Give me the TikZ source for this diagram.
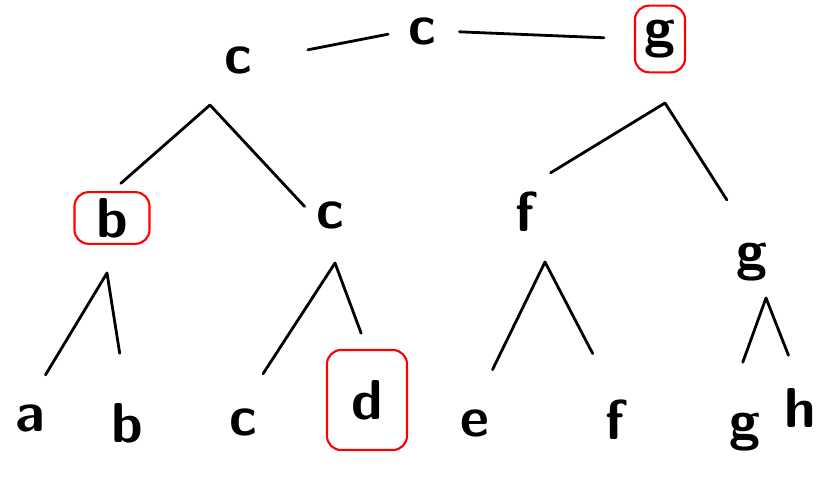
\documentclass[tikz,border=0pt]{standalone}
\begin{document}
\begin{tikzpicture}[x=0.03cm, y=-0.03cm, line width=2.4pt, line cap=round, line join=round,
	letter/.style={font=\fontsize{48}{54}\selectfont\sffamily\bfseries, inner sep=2pt},
	picked/.style={letter, draw=red, line width=1.8pt, rounded corners=12pt}]
	\useasboundingbox (0,0) rectangle (831,491);
	
	% oberste Reihe
	\node [letter] (c1) at (238,60) {c};
	\node [letter] (c0) at (422,31) {c};
	\node [picked, minimum width=1.5cm, minimum height=2cm] (g1) at (660,39) {g};
	\draw [shorten <=1.6cm, shorten >=0.5cm] (c1.east) -- (c0.west);
	\draw [shorten <=0.6cm, shorten >=0.9cm] (c0.east) -- (g1.west);
	
	% zweite Reihe
	\node [picked, minimum width=2.25cm, minimum height=1.55cm] (b2) at (112,218) {b};
	\node [letter] (c2) at (330,215) {c};
	\node [letter] (f2) at (525,212) {f};
	\node [letter] (g2) at (752,262) {g};
	\coordinate (pkL) at (210,105);					% Spitze links
	\coordinate (pkR) at (665,103);					% Spitze rechts
	\draw [shorten <=0.35cm, shorten >=0.35cm] (b2.north) -- (pkL) -- (c2.west);
	\draw [shorten <=0.9cm, shorten >=1.4cm] (f2.north) -- (pkR) -- (g2.north);
	
	% Blaetter
	\node [letter] (a3) at (30,418) {a};
	\node [letter] (b3) at (127,423) {b};
	\node [letter] (c3) at (243,422) {c};
	\node [picked, minimum width=2.4cm, minimum height=3cm] (d3) at (367,400) {d};
	\node [letter] (e3) at (475,423) {e};
	\node [letter] (f3) at (615,420) {f};
	\node [letter] (g3) at (745,432) {g};
	\node [letter] (h3) at (800,408) {h};
	\coordinate (pk1) at (107,273);
	\coordinate (pk2) at (335,263);
	\coordinate (pk3) at (545,262);
	\coordinate (pk4) at (766,298);
	\draw [shorten <=0.9cm, shorten >=1.4cm] (a3.north) -- (pk1) -- (b3.north);
	\draw [shorten <=1.1cm, shorten >=0.5cm] (c3.north) -- (pk2) -- (d3.north);
	\draw [shorten <=1.2cm, shorten >=1.45cm] (e3.north) -- (pk3) -- (f3.north);
	\draw [shorten <=1.5cm, shorten >=0.95cm] (g3.north west) -- (pk4) -- (h3.north);
\end{tikzpicture}
\end{document}
